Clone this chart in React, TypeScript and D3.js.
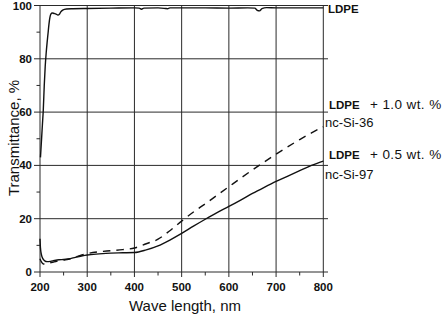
import React from "react";
import * as d3 from "d3";

const xTicks = [200, 300, 400, 500, 600, 700, 800];
const xMinor = [250, 350, 450, 550, 650, 750];
const yTicks = [0, 20, 40, 60, 80, 100];
const yMinor = [10, 30, 50, 70, 90];

const ldpeWl = [201, 203, 205, 207, 209, 211, 213, 215, 217, 219, 221, 223, 226, 230, 234, 238, 241, 244, 248, 256, 270, 300, 350, 400, 410, 415, 420, 450, 465, 470, 475, 500, 550, 600, 640, 655, 660, 665, 670, 680, 700, 750, 800];
const ldpeT = [43, 49, 55, 61, 70, 77, 82, 86, 89.5, 93, 95.5, 96.8, 97.2, 97, 96.8, 96.4, 96.7, 97.6, 98.3, 98.7, 98.8, 98.9, 99, 99.1, 99.0, 98.6, 99.0, 99.1, 98.9, 98.8, 99.1, 99.1, 99.1, 99.0, 99.1, 99.0, 98.2, 98.0, 98.8, 99.2, 99.1, 99.1, 99.1];

const si97Wl = [200, 201, 203, 206, 210, 215, 222, 230, 240, 250, 260, 275, 290, 300, 325, 350, 375, 400, 425, 450, 475, 500, 525, 550, 575, 600, 625, 650, 675, 700, 725, 750, 775, 800];
const si97T = [12.5, 9, 6.5, 5, 4.2, 3.9, 4.0, 4.3, 4.6, 4.7, 4.9, 5.5, 6.1, 6.4, 6.8, 7.1, 7.2, 7.3, 8.3, 9.8, 12, 14.5, 17.2, 19.8, 22.3, 24.6, 27, 29.5, 31.8, 34, 36, 38, 40, 41.6];

const si36Wl = [200, 203, 207, 212, 220, 230, 240, 250, 260, 275, 300, 325, 350, 375, 400, 425, 450, 475, 500, 525, 550, 575, 600, 625, 650, 675, 700, 725, 750, 775, 800];
const si36T = [5, 3.8, 3.0, 3.0, 3.4, 3.8, 4.2, 4.5, 4.8, 5.6, 6.9, 7.6, 8.0, 8.4, 9.0, 10.6, 12.3, 15.5, 19.1, 22.5, 25.6, 28.8, 32, 35.2, 38.3, 41.3, 44.2, 47, 49.7, 52.2, 54.5];

const x = d3.scaleLinear().domain([200, 800]).range([40, 323.3]);
const y = d3.scaleLinear().domain([0, 100]).range([272, 5.5]);

const line = d3
  .line<[number, number]>()
  .x((d) => x(d[0]))
  .y((d) => y(d[1]))
  .curve(d3.curveMonotoneX);

const zip = (a: number[], b: number[]) => a.map((v, i) => [v, b[i]] as [number, number]);

const grid = "#2a2a2a";
const ink = "#111";
const font = "'Liberation Sans', Arial, sans-serif";

export default function App() {
  return (
    <svg
      width={442}
      height={315}
      style={{ position: "absolute", left: 0, top: 0, background: "#fff" }}
      fontFamily={font}
    >
      <rect width={442} height={315} fill="#fff" />
      {yTicks.map((t) => (
        <line key={"hy" + t} x1={34} x2={328} y1={y(t)} y2={y(t)} stroke={grid} strokeWidth={1} />
      ))}
      {xTicks.map((t) => (
        <line key={"vx" + t} x1={x(t)} x2={x(t)} y1={5} y2={277} stroke={grid} strokeWidth={1} />
      ))}
      {xMinor.map((t) => (
        <line key={"mx" + t} x1={x(t)} x2={x(t)} y1={272} y2={275.5} stroke={grid} strokeWidth={1} />
      ))}
      {yMinor.map((t) => (
        <line key={"my" + t} x1={36.5} x2={40} y1={y(t)} y2={y(t)} stroke={grid} strokeWidth={1} />
      ))}
      {yTicks.map((t) => (
        <text key={"ly" + t} x={32} y={y(t)} dy="0.35em" textAnchor="end" fontSize={11.5} fontWeight="bold" fill={ink}>
          {t}
        </text>
      ))}
      {xTicks.map((t) => (
        <text key={"lx" + t} x={x(t)} y={291} textAnchor="middle" fontSize={11.5} fontWeight="bold" fill={ink}>
          {t}
        </text>
      ))}
      <path d={line(zip(ldpeWl, ldpeT)) || ""} fill="none" stroke={ink} strokeWidth={1.4} />
      <path d={line(zip(si97Wl, si97T)) || ""} fill="none" stroke={ink} strokeWidth={1.4} />
      <path d={line(zip(si36Wl, si36T)) || ""} fill="none" stroke={ink} strokeWidth={1.4} strokeDasharray="7.5 6" />
      <text x={185} y={311} textAnchor="middle" fontSize={15} fill={ink}>
        Wave length, nm
      </text>
      <text transform="translate(19,138) rotate(-90)" textAnchor="middle" fontSize={15} fill={ink}>
        Transmittance, %
      </text>
      <text x={328} y={13} fontSize={11.5} fontWeight="bold" fill={ink}>LDPE</text>
      <text x={329} y={108.5} fontSize={11.5} fontWeight="bold" fill={ink}>LDPE</text>
      <text x={370} y={108.5} fontSize={13.5} letterSpacing={0.4} fill={ink}>+ 1.0 wt. %</text>
      <text x={325} y={126.5} fontSize={13} fill={ink}>nc-Si-36</text>
      <text x={329} y={158.5} fontSize={11.5} fontWeight="bold" fill={ink}>LDPE</text>
      <text x={370} y={158.5} fontSize={13.5} letterSpacing={0.4} fill={ink}>+ 0.5 wt. %</text>
      <text x={325} y={178.5} fontSize={13} fill={ink}>nc-Si-97</text>
    </svg>
  );
}
